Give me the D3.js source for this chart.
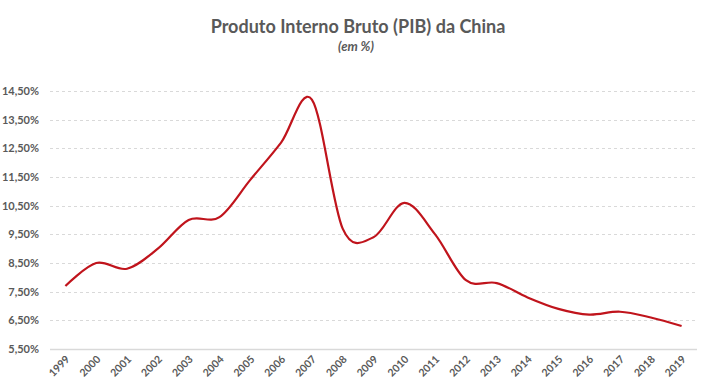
<!DOCTYPE html>
<meta charset="utf-8">
<head>
    <title>PIB China</title>
    <script src="https://cdn.jsdelivr.net/npm/d3@7"></script>
    <style>
        body { margin: 0; background: #fff; }
        text { font-family: Lato, "Open Sans", sans-serif; fill: #595959; }
    </style>
</head>
<body>
    <div id="chart"></div>
    <script>
        // data
        const years = ["1999", "2000", "2001", "2002", "2003", "2004", "2005", "2006", "2007", "2008",
            "2009", "2010", "2011", "2012", "2013", "2014", "2015", "2016", "2017", "2018", "2019"];
        const pib = [7.7, 8.5, 8.3, 9.0, 10.0, 10.1, 11.4, 12.7, 14.2, 9.7,
            9.4, 10.6, 9.5, 7.9, 7.8, 7.3, 6.9, 6.7, 6.8, 6.6, 6.3];
        const yTicks = [5.5, 6.5, 7.5, 8.5, 9.5, 10.5, 11.5, 12.5, 13.5, 14.5];

        const width = 707, height = 389;
        const plotLeft = 50, plotRight = 697, plotTop = 91, plotBottom = 349;

        const svg = d3.select("#chart").append("svg")
            .attr("width", width)
            .attr("height", height);

        const x = d3.scaleBand().domain(years).range([plotLeft, plotRight]);
        const y = d3.scaleLinear().domain([5.5, 14.5]).range([plotBottom, plotTop]);

        // gridlines
        svg.append("g")
            .selectAll("line")
            .data(yTicks.slice(1))
            .enter()
            .append("line")
            .attr("x1", plotLeft).attr("x2", plotRight)
            .attr("y1", d => Math.round(y(d)) + 0.5)
            .attr("y2", d => Math.round(y(d)) + 0.5)
            .attr("stroke", "#d9d9d9")
            .attr("stroke-dasharray", "3,3");

        // baseline
        svg.append("line")
            .attr("x1", plotLeft).attr("x2", plotRight)
            .attr("y1", plotBottom + 0.5).attr("y2", plotBottom + 0.5)
            .attr("stroke", "#d9d9d9")
            .attr("stroke-width", 1.5);

        // y labels
        const fmt = d => d.toFixed(2).replace(".", ",") + "%";
        svg.append("g")
            .selectAll("text")
            .data(yTicks)
            .enter()
            .append("text")
            .attr("x", 39)
            .attr("y", d => y(d) + 4)
            .attr("text-anchor", "end")
            .style("font-size", "11px")
            .style("font-weight", "bold")
            .text(fmt);

        // x labels
        svg.append("g")
            .selectAll("text")
            .data(years)
            .enter()
            .append("text")
            .attr("transform", d => "translate(" + (x(d) + x.bandwidth() / 2 + 5) + ",360) rotate(-45)")
            .attr("text-anchor", "end")
            .style("font-size", "10.5px")
            .style("font-weight", "bold")
            .text(d => d);

        // line (smoothed like excel)
        const line = d3.line()
            .x((d, i) => x(years[i]) + x.bandwidth() / 2)
            .y(d => y(d))
            .curve(d3.curveCatmullRom.alpha(0));

        svg.append("path")
            .datum(pib)
            .attr("d", line)
            .attr("fill", "none")
            .attr("stroke", "#c0141c")
            .attr("stroke-width", 2.2);

        // title
        svg.append("text")
            .attr("x", 358).attr("y", 33)
            .attr("text-anchor", "middle")
            .style("font-size", "18px")
            .style("font-weight", "bold")
            .text("Produto Interno Bruto (PIB) da China");

        svg.append("text")
            .attr("x", 356).attr("y", 51)
            .attr("text-anchor", "middle")
            .style("font-size", "13px")
            .style("font-weight", "bold")
            .style("font-style", "italic")
            .text("(em %)");
    </script>
</body>
